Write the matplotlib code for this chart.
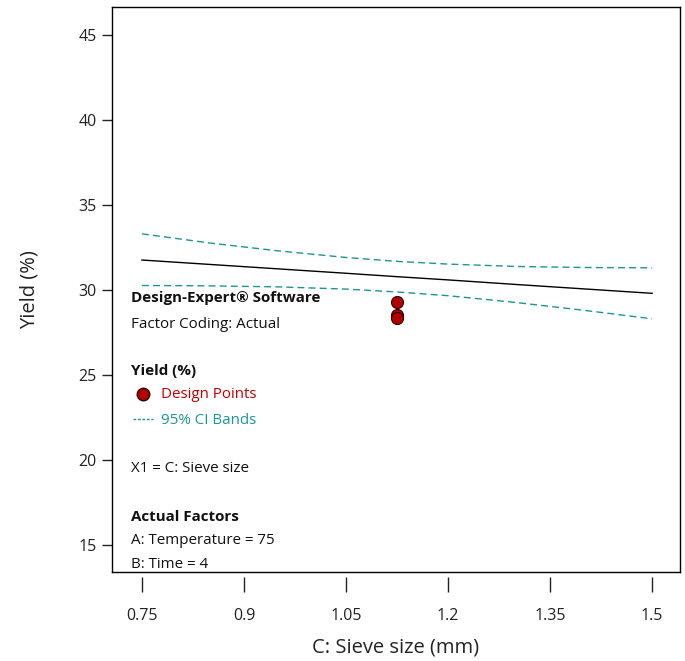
import matplotlib.pyplot as plt
from matplotlib.lines import Line2D

plt.rcParams["font.family"] = ["Open Sans", "DejaVu Sans"]

# Data

sieve = [0.75, 0.85, 0.95, 1.05, 1.125, 1.2, 1.3, 1.4, 1.5]
yield_pred = [31.76, 31.50, 31.24, 30.98, 30.78, 30.59, 30.32, 30.06, 29.80]
ci_upper = [33.30, 32.76, 32.30, 31.91, 31.68, 31.52, 31.38, 31.32, 31.30]
ci_lower = [30.26, 30.24, 30.18, 30.05, 29.88, 29.66, 29.26, 28.80, 28.30]

design_x = [1.125, 1.125, 1.125]
design_y = [29.28, 28.53, 28.33]

x_ticks = [0.75, 0.9, 1.05, 1.2, 1.35, 1.5]
x_tick_labels = ["0.75", "0.9", "1.05", "1.2", "1.35", "1.5"]
y_ticks = [15, 20, 25, 30, 35, 40, 45]

TEAL = "#1a9696"
RED = "#b00000"
W, H = 685, 661

fig = plt.figure(figsize=(W / 100, H / 100), dpi=100)
ax = fig.add_axes([112 / W, 1 - 572 / H, 568 / W, 565 / H])

ax.plot(sieve, yield_pred, color="black", lw=1.0)
ax.plot(sieve, ci_upper, color=TEAL, lw=1.0, ls=(0, (5, 3)))
ax.plot(sieve, ci_lower, color=TEAL, lw=1.0, ls=(0, (5, 3)))
ax.scatter(design_x, design_y, s=75, color=RED, edgecolor="#300000",
           linewidth=0.8, zorder=5)

ax.set_xlim(0.706, 1.541)
ax.set_ylim(13.4, 46.65)

ax.set_yticks(y_ticks)
ax.tick_params(axis="y", direction="out", length=7, width=1, labelsize=11.5,
               pad=4, colors="#222222")
for s in ax.spines.values():
    s.set_linewidth(1.0)

# x ticks are drawn detached from the frame
ax.set_xticks([])
sec = ax.secondary_xaxis(-0.008)
sec.spines["bottom"].set_visible(False)
sec.set_xticks(x_ticks)
sec.set_xticklabels(x_tick_labels)
sec.tick_params(axis="x", direction="out", length=11, width=1, labelsize=11.5,
                pad=12, colors="#222222")

fig.text(30 / W, 1 - 290 / H, "Yield (%)", rotation=90, ha="center",
         va="center", fontsize=14.5, color="#222222")
fig.text(396 / W, 1 - 648 / H, "C: Sieve size (mm)", ha="center",
         va="center", fontsize=14.5, color="#222222")


def put(x, y, txt, **kw):
    fig.text(x / W, 1 - y / H, txt, va="center", ha="left", fontsize=10.9,
             color=kw.pop("color", "#111111"), **kw)


put(131, 298, "Design-Expert® Software", fontweight="bold")
put(131, 324, "Factor Coding: Actual")
put(131, 371, "Yield (%)", fontweight="bold")
put(161, 395, "Design Points", color="#c00000")
put(161, 420, "95% CI Bands", color=TEAL)
put(131, 468, "X1 = C: Sieve size")
put(131, 517, "Actual Factors", fontweight="bold")
put(131, 541, "A: Temperature = 75")
put(131, 565, "B: Time = 4")

fig.add_artist(Line2D([143 / W], [1 - 394 / H], marker="o", markersize=9,
                      color=RED, markeredgecolor="#300000", lw=0))
fig.add_artist(Line2D([133 / W, 153 / W], [1 - 419 / H, 1 - 419 / H],
                      color=TEAL, lw=1.0, ls=(0, (2, 1.2))))

fig.savefig("out.png", dpi=100)
